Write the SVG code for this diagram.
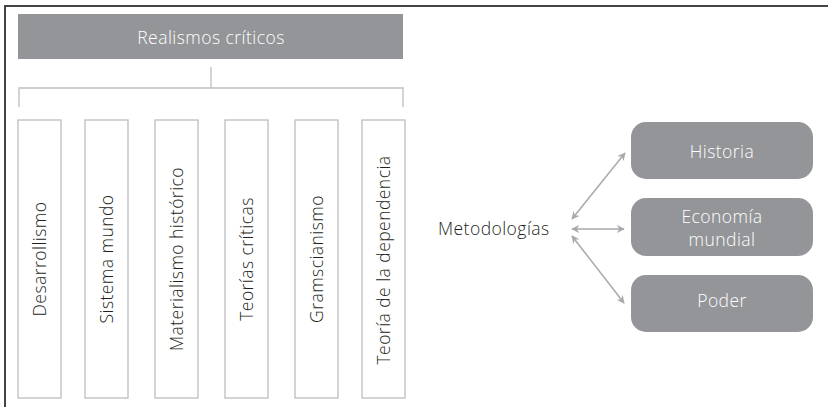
<svg xmlns="http://www.w3.org/2000/svg" width="828" height="407" viewBox="0 0 828 407">
  <style>
    .t { font-family: "Open Sans", Lato, "Liberation Sans", sans-serif; font-size: 17.5px; font-weight: 300; letter-spacing: 0.45px; }
    .dark { fill: #231f20; }
    .light { fill: #ffffff; }
    .col { fill: #ffffff; stroke: #bcbec0; stroke-width: 1.3; }
    .bar { fill: #939598; }
    .pill { fill: #939598; }
    .tree { fill: none; stroke: #bcbec0; stroke-width: 1.3; }
    .arr { fill: none; stroke: #a7a9ac; stroke-width: 1.5; marker-start: url(#ah); marker-end: url(#ah); }
  </style>
  <defs>
    <marker id="ah" viewBox="0 0 10 10" refX="9" refY="5" markerWidth="8" markerHeight="8" orient="auto-start-reverse" markerUnits="userSpaceOnUse">
      <path d="M0,0 L10,5 L0,10 L3,5 Z" fill="#a7a9ac"/>
    </marker>
  </defs>

  <rect width="828" height="407" fill="#ffffff"/>
  <!-- frame -->
  <path d="M5,407 V6 H828" fill="none" stroke="#444444" stroke-width="2"/>

  <g id="realismos">
    <rect class="bar" x="18" y="14" width="385" height="45"/>
    <text class="t light" x="211" y="44" text-anchor="middle">Realismos críticos</text>
  </g>

  <g id="connectors">
    <path class="tree" d="M211,67 V88 M19,107 V88 H403 V107"/>
    <path class="arr" d="M572,219 L625,153"/>
    <path class="arr" d="M572,229 L624,229"/>
    <path class="arr" d="M572,236 L624,303"/>
  </g>

  <g id="desarrollismo">
    <rect class="col" x="18" y="120" width="43" height="278"/>
    <text class="t dark" transform="translate(46,259) rotate(-90)" text-anchor="middle">Desarrollismo</text>
  </g>
  <g id="sistema-mundo">
    <rect class="col" x="85" y="120" width="43" height="278"/>
    <text class="t dark" transform="translate(113,259) rotate(-90)" text-anchor="middle">Sistema mundo</text>
  </g>
  <g id="materialismo">
    <rect class="col" x="155" y="120" width="43" height="278"/>
    <text class="t dark" transform="translate(183,259) rotate(-90)" text-anchor="middle">Materialismo histórico</text>
  </g>
  <g id="teorias-criticas">
    <rect class="col" x="225" y="120" width="43" height="278"/>
    <text class="t dark" transform="translate(253,259) rotate(-90)" text-anchor="middle">Teorías críticas</text>
  </g>
  <g id="gramscianismo">
    <rect class="col" x="295" y="120" width="43" height="278"/>
    <text class="t dark" transform="translate(323,259) rotate(-90)" text-anchor="middle">Gramscianismo</text>
  </g>
  <g id="dependencia">
    <rect class="col" x="362" y="120" width="43" height="278"/>
    <text class="t dark" transform="translate(390,260) rotate(-90)" text-anchor="middle">Teoría de la dependencia</text>
  </g>

  <g id="metodologias">
    <text class="t dark" x="438" y="235">Metodologías</text>
  </g>

  <g id="historia">
    <rect class="pill" x="631" y="122" width="182" height="57" rx="15"/>
    <text class="t light" x="722" y="158" text-anchor="middle">Historia</text>
  </g>
  <g id="economia">
    <rect class="pill" x="631" y="198" width="182" height="58" rx="15"/>
    <text class="t light" x="722" y="223" text-anchor="middle">Economía</text>
    <text class="t light" x="722" y="246" text-anchor="middle">mundial</text>
  </g>
  <g id="poder">
    <rect class="pill" x="631" y="275" width="182" height="57" rx="15"/>
    <text class="t light" x="722" y="307" text-anchor="middle">Poder</text>
  </g>
</svg>
